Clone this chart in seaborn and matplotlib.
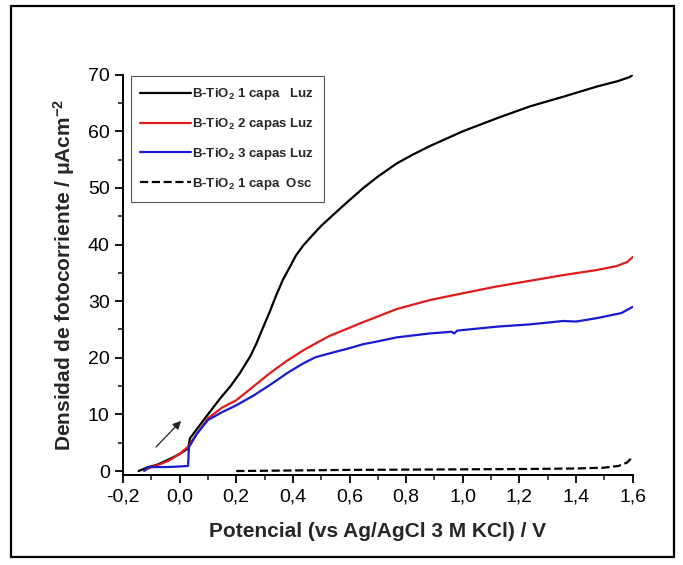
import numpy as np
import pandas as pd
import matplotlib
matplotlib.use("Agg")
import matplotlib.pyplot as plt
from matplotlib.patches import Rectangle
from matplotlib.ticker import MultipleLocator, FuncFormatter
import seaborn as sns

# ----------------------------------------------------------
# DATA
# ----------------------------------------------------------
v_black = [-0.145, -0.13, -0.11, -0.08, -0.04, 0.0, 0.03, 0.037, 0.07, 0.1, 0.143, 0.18,
           0.213, 0.25, 0.272, 0.29, 0.319, 0.34, 0.365, 0.39, 0.41, 0.436, 0.47, 0.5,
           0.55, 0.59, 0.649, 0.7, 0.766, 0.82, 0.884, 1.0, 1.12,
           1.237, 1.354, 1.473, 1.55, 1.59, 1.6]
j_black = [0.0, 0.3, 0.7, 1.1, 2.0, 3.0, 4.0, 5.8, 8.0, 10.0, 12.8, 15.0,
           17.3, 20.3, 22.6, 24.8, 28.2, 30.9, 33.8, 36.1, 38.0, 39.8, 41.7, 43.3,
           45.6, 47.4, 50.0, 52.0, 54.3, 55.8, 57.4, 60.0, 62.3,
           64.4, 66.1, 67.9, 68.9, 69.6, 70.0]

v_red = [-0.12, -0.1, -0.07, -0.04, 0.0, 0.03, 0.06, 0.1, 0.15, 0.2, 0.26, 0.319,
         0.38, 0.436, 0.49, 0.531, 0.6, 0.648, 0.7, 0.766, 0.884, 1.0, 1.12, 1.237,
         1.354, 1.473, 1.543, 1.58, 1.6]
j_red = [0.2, 0.7, 1.2, 1.8, 3.0, 4.3, 6.5, 9.3, 11.2, 12.5, 14.9, 17.3,
         19.5, 21.3, 22.8, 23.9, 25.3, 26.3, 27.3, 28.6, 30.2, 31.4, 32.6, 33.6,
         34.6, 35.5, 36.2, 36.9, 37.8]

v_blue = [-0.125, -0.115, -0.1, -0.05, 0.0, 0.03, 0.033, 0.06, 0.1, 0.15, 0.2, 0.26,
          0.319, 0.38, 0.436, 0.48, 0.531, 0.6, 0.648, 0.7, 0.766, 0.884, 0.96,
          0.97, 0.98, 1.0, 1.12, 1.237, 1.354, 1.40, 1.473, 1.56, 1.6]
j_blue = [0.0, 0.6, 0.7, 0.7, 0.8, 0.9, 4.2, 6.5, 9.0, 10.4, 11.6, 13.3,
          15.2, 17.3, 19.0, 20.1, 20.8, 21.7, 22.4, 22.9, 23.6, 24.3, 24.6,
          24.3, 24.8, 24.9, 25.5, 25.9, 26.5, 26.4, 27.0, 27.9, 29.0]

v_dark = [0.2, 0.4, 0.6, 0.8, 1.0, 1.2, 1.4, 1.5, 1.55, 1.58, 1.6]
j_dark = [0.0, 0.1, 0.2, 0.25, 0.3, 0.35, 0.45, 0.6, 0.9, 1.5, 2.5]

labels = [r"B-TiO$_\mathbf{2}$ 1 capa   Luz",
          r"B-TiO$_\mathbf{2}$ 2 capas Luz",
          r"B-TiO$_\mathbf{2}$ 3 capas Luz",
          r"B-TiO$_\mathbf{2}$ 1 capa  Osc"]

# ----------------------------------------------------------
# STYLE
# ----------------------------------------------------------
sns.set_style("ticks")
plt.rcParams["font.family"] = ["Liberation Sans", "DejaVu Sans"]
plt.rcParams["mathtext.fontset"] = "custom"
plt.rcParams["mathtext.rm"] = "Liberation Sans"
plt.rcParams["mathtext.bf"] = "Liberation Sans:bold"
plt.rcParams["mathtext.it"] = "Liberation Sans:italic"

fig = plt.figure(figsize=(6.83, 5.65), dpi=100)
ax = fig.add_axes([0.180, 0.1593, 0.7464, 0.7085])

series = [(v_black, j_black, "black", "-"),
          (v_red, j_red, "#e01b1b", "-"),
          (v_blue, j_blue, "#1a1ad0", "-"),
          (v_dark, j_dark, "black", "--")]

for (v, j, col, ls), lab in zip(series, labels):
    df = pd.DataFrame({"V": v, "J": j})
    sns.lineplot(data=df, x="V", y="J", color=col, linestyle=ls, lw=1.6,
                 label=lab, ax=ax, sort=False)

# scan direction arrow
ax.annotate("", xy=(0.012, 9.2), xytext=(-0.09, 3.9),
            arrowprops=dict(arrowstyle="-|>", color="#222222", lw=0.9,
                            mutation_scale=12))

ax.set_xlim(-0.2, 1.6)
ax.set_ylim(-0.7, 70)
ax.xaxis.set_major_locator(MultipleLocator(0.2))
ax.xaxis.set_minor_locator(MultipleLocator(0.1))
ax.yaxis.set_major_locator(MultipleLocator(10))
ax.yaxis.set_minor_locator(MultipleLocator(5))
ax.xaxis.set_major_formatter(FuncFormatter(lambda x, p: f"{x:.1f}".replace(".", ",").replace("-0,0", "0,0")))
ax.yaxis.set_major_formatter(FuncFormatter(lambda y, p: f"{y:.0f}"))
ax.tick_params(which="major", direction="out", length=6, width=1.3, labelsize=14, colors="black")
ax.tick_params(which="minor", direction="out", length=3.5, width=1.2)
for s in ["left", "bottom"]:
    ax.spines[s].set_linewidth(1.4)
    ax.spines[s].set_color("black")
sns.despine(ax=ax)

ax.set_xlabel("Potencial (vs Ag/AgCl 3 M KCl) / V", fontsize=15, fontweight="bold", labelpad=12)
ax.set_ylabel(r"Densidad de fotocorriente / μAcm$^{\mathbf{-2}}$", fontsize=15,
              fontweight="bold", labelpad=8)

leg = ax.legend(loc="upper left", bbox_to_anchor=(0.002, 1.012), frameon=True,
                fancybox=False, edgecolor="#555555", framealpha=1,
                prop={"weight": "bold", "size": 9.5}, handlelength=3.8,
                handletextpad=0.1, labelspacing=1.05, borderpad=0.75)
leg.get_frame().set_linewidth(0.8)

# border around whole figure
fig.patches.append(Rectangle((11 / 683, 1 - 557 / 565), 663 / 683, 551 / 565,
                             transform=fig.transFigure, fill=False,
                             edgecolor="black", lw=1.6))

fig.savefig("out.png", dpi=100)
